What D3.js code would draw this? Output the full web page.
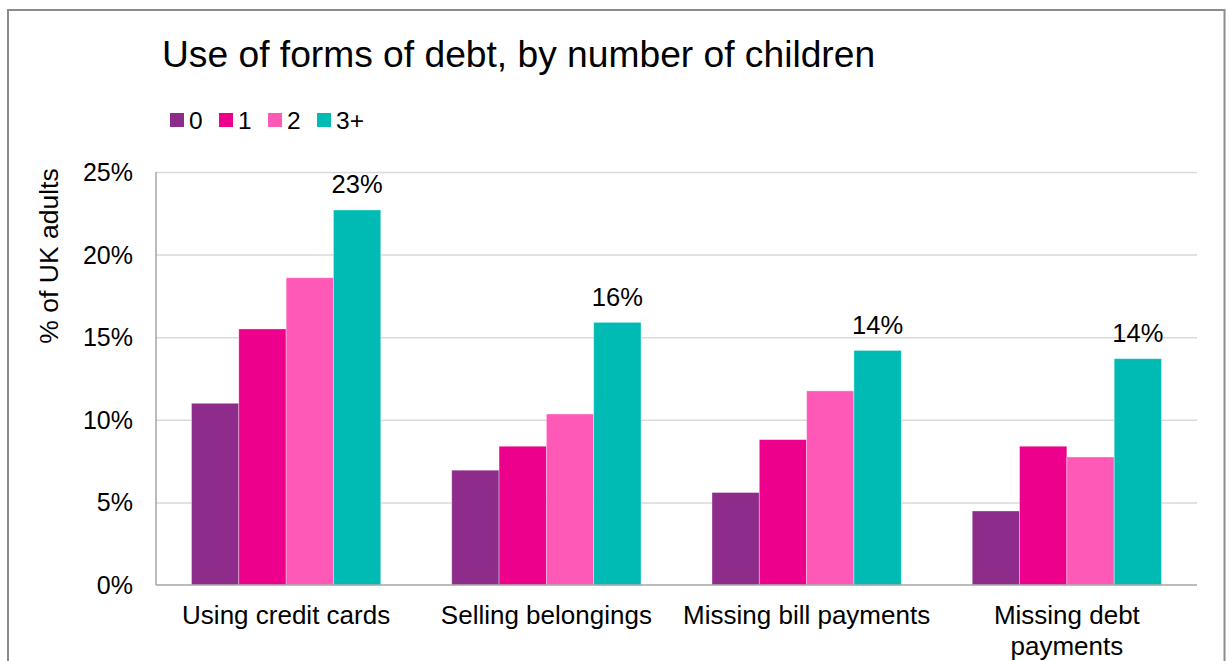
<!DOCTYPE html>
<html>
<head>
<meta charset="utf-8">
<script src="https://cdn.jsdelivr.net/npm/d3@7"></script>
<style>
  html, body { margin: 0; padding: 0; background: #fff; }
  svg { display: block; font-family: "Liberation Sans", Arial, sans-serif; }
</style>
</head>
<body>
<svg id="chart" width="1226" height="661"></svg>
<script>
// Chart data
const categories = [["Using credit cards"], ["Selling belongings"], ["Missing bill payments"], ["Missing debt", "payments"]];
const seriesNames = ["0", "1", "2", "3+"];
const seriesColors = ["#8E2C8C", "#EC008C", "#FF59B8", "#00BBB4"];
const values0 = [0.110, 0.0695, 0.056, 0.0448];
const values1 = [0.155, 0.084, 0.088, 0.084];
const values2 = [0.186, 0.1035, 0.1175, 0.0775];
const values3 = [0.227, 0.159, 0.142, 0.137];
const yTicks = [0, 0.05, 0.10, 0.15, 0.20, 0.25];
const labelledSeries = [3];

const series = [values0, values1, values2, values3];
const catKeys = categories.map(c => c.join(" "));
const FONT = "Liberation Sans, Arial, sans-serif";

const svg = d3.select("#chart");

// Outer frame
svg.append("rect")
  .attr("x", 8).attr("y", 10)
  .attr("width", 1216.5).attr("height", 670)
  .attr("fill", "#fff").attr("stroke", "#8c8c8c").attr("stroke-width", 2);

const plot = { left: 156, right: 1197, top: 172, bottom: 585 };

const y = d3.scaleLinear().domain([0, 0.25]).range([plot.bottom, plot.top]);
const x0 = d3.scaleBand().domain(catKeys).range([plot.left, plot.right])
  .paddingInner(0.2727).paddingOuter(0.1364);
const x1 = d3.scaleBand().domain(seriesNames).range([0, x0.bandwidth()]).padding(0);

// Gridlines
svg.append("g")
  .attr("transform", `translate(${plot.left},0)`)
  .call(d3.axisLeft(y).tickValues(yTicks.slice(1)).tickSize(-(plot.right - plot.left)).tickFormat(""))
  .call(g => g.select(".domain").remove())
  .call(g => g.selectAll(".tick line").attr("stroke", "#d9d9d9").attr("stroke-width", 1.5));

// Y axis labels
svg.append("g")
  .attr("transform", `translate(${plot.left},0)`)
  .call(d3.axisLeft(y).tickValues(yTicks).tickSize(0).tickPadding(23).tickFormat(d3.format(".0%")))
  .call(g => g.select(".domain").remove())
  .call(g => g.selectAll("text").attr("font-size", 25).attr("fill", "#000")
    .attr("font-family", FONT).attr("dy", "0.34em"));

// Bars
const groups = svg.append("g").selectAll("g")
  .data(catKeys)
  .join("g")
  .attr("transform", d => `translate(${x0(d)},0)`);

groups.selectAll("rect")
  .data((d, i) => series.map((s, j) => ({ key: seriesNames[j], value: s[i], color: seriesColors[j] })))
  .join("rect")
  .attr("x", d => x1(d.key))
  .attr("y", d => y(d.value))
  .attr("width", x1.bandwidth())
  .attr("height", d => y(0) - y(d.value))
  .attr("fill", d => d.color)
  .attr("stroke", "#ffffff")
  .attr("stroke-opacity", 0.45)
  .attr("stroke-width", 0.8);

// Value labels on the 3+ series
groups.selectAll("text.val")
  .data((d, i) => labelledSeries.map(j => ({ key: seriesNames[j], value: series[j][i] })))
  .join("text")
  .attr("class", "val")
  .attr("x", d => x1(d.key) + x1.bandwidth() / 2)
  .attr("y", d => y(d.value) - 16.5)
  .attr("text-anchor", "middle")
  .attr("font-size", 25.5)
  .attr("fill", "#000")
  .text(d => d3.format(".0%")(d.value));

// Axis lines
svg.append("line")
  .attr("x1", plot.left).attr("x2", plot.left)
  .attr("y1", plot.top).attr("y2", plot.bottom)
  .attr("stroke", "#a6a6a6").attr("stroke-width", 1.5);
svg.append("line")
  .attr("x1", plot.left).attr("x2", plot.right)
  .attr("y1", plot.bottom).attr("y2", plot.bottom)
  .attr("stroke", "#a6a6a6").attr("stroke-width", 1.5);

// Category labels
const catLabels = svg.append("g").selectAll("text")
  .data(categories)
  .join("text")
  .attr("x", (d, i) => x0(catKeys[i]) + x0.bandwidth() / 2)
  .attr("y", 624)
  .attr("text-anchor", "middle")
  .attr("font-size", 26)
  .attr("fill", "#000");
catLabels.selectAll("tspan")
  .data(d => d)
  .join("tspan")
  .attr("x", function () { return d3.select(this.parentNode).attr("x"); })
  .attr("dy", (d, i) => i === 0 ? 0 : 30.5)
  .text(d => d);

// Y axis title
svg.append("text")
  .attr("transform", "translate(58,256) rotate(-90)")
  .attr("text-anchor", "middle")
  .attr("font-size", 26.5)
  .attr("fill", "#000")
  .text("% of UK adults");

// Title
svg.append("text")
  .attr("x", 162).attr("y", 67)
  .attr("font-size", 37.2)
  .attr("fill", "#000")
  .text("Use of forms of debt, by number of children");

// Legend
const legend = svg.append("g").selectAll("g")
  .data(seriesNames)
  .join("g")
  .attr("transform", (d, i) => `translate(${170 + i * 49},113)`);
legend.append("rect")
  .attr("width", 14).attr("height", 14)
  .attr("fill", (d, i) => seriesColors[i]);
legend.append("text")
  .attr("x", 19).attr("y", 15.5)
  .attr("font-size", 24.5)
  .attr("fill", "#000")
  .text(d => d);
</script>
</body>
</html>
